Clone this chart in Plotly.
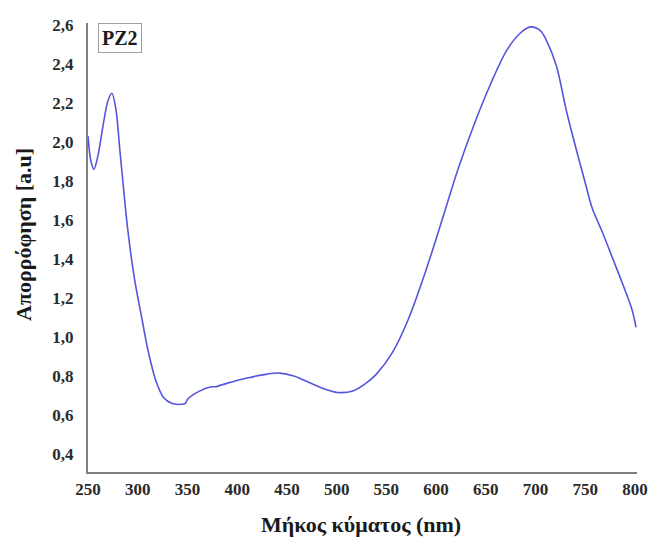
import plotly.graph_objects as go

# Absorption spectrum of sample PZ2
wavelength_nm = [250, 253, 256, 260, 265, 270, 274, 278, 282, 285, 290, 297, 304, 310,
                 318, 326, 334, 344, 348, 350, 361, 374, 378, 391, 410, 430, 443, 457,
                 473, 490, 503, 517, 530, 540, 556, 572, 589, 606, 622, 639, 655, 671,
                 685, 695, 705, 711, 721, 731, 741, 750, 757, 767, 777, 787, 797, 801]
absorbance = [2.03, 1.90, 1.86, 1.93, 2.08, 2.21, 2.25, 2.17, 1.96, 1.80, 1.55, 1.29, 1.10, 0.94,
              0.78, 0.69, 0.66, 0.655, 0.66, 0.68, 0.72, 0.745, 0.745, 0.765, 0.79, 0.81, 0.815, 0.80,
              0.765, 0.73, 0.715, 0.725, 0.765, 0.81, 0.92, 1.09, 1.33, 1.60, 1.86, 2.10, 2.30, 2.47,
              2.56, 2.59, 2.57, 2.52, 2.39, 2.16, 1.96, 1.79, 1.66, 1.54, 1.41, 1.28, 1.14, 1.05]

x_ticks = [250, 300, 350, 400, 450, 500, 550, 600, 650, 700, 750, 800]
y_ticks = [0.4, 0.6, 0.8, 1.0, 1.2, 1.4, 1.6, 1.8, 2.0, 2.2, 2.4, 2.6]

sample_label = "PZ2"
x_title = "Μήκος κύματος (nm)"
y_title = "Απορρόφηση [a.u]"

serif = "Liberation Serif"

fig = go.Figure()
fig.add_trace(go.Scatter(
    x=wavelength_nm, y=absorbance, mode="lines",
    line=dict(color="#5555dd", width=1.6, shape="spline", smoothing=0.9),
    showlegend=False, hoverinfo="skip",
))

axis_common = dict(
    showgrid=False, zeroline=False, showline=True,
    linecolor="#808080", linewidth=2, ticks="",
    tickfont=dict(family=serif, size=17, color="#2a2a2a", weight="bold"),
)

fig.update_xaxes(range=[250, 802], tickvals=x_ticks, ticklabelstandoff=1, **axis_common)
fig.update_yaxes(range=[0.308, 2.61], tickvals=y_ticks, tickformat=".1f",
                 ticklabelstandoff=9, **axis_common)

fig.update_layout(
    width=660, height=537,
    margin=dict(l=88, r=15, t=23, b=65),
    paper_bgcolor="white", plot_bgcolor="white",
    separators=",.",
    annotations=[
        dict(text=sample_label, xref="paper", yref="paper", x=0.059, y=0.967,
             xanchor="center", yanchor="middle", showarrow=False,
             font=dict(family=serif, size=20, color="#1a1a1a", weight="bold"),
             bordercolor="#a0a0a0", borderwidth=1, borderpad=3, bgcolor="white"),
        dict(text=x_title, xref="paper", yref="paper", x=0.497, y=0,
             xanchor="center", yanchor="middle", yshift=-52, showarrow=False,
             font=dict(family=serif, size=22, color="#1a1a1a", weight="bold")),
        dict(text=y_title, xref="paper", yref="paper", x=-0.1185, y=0.53,
             xanchor="center", yanchor="middle", textangle=-90, showarrow=False,
             font=dict(family=serif, size=22, color="#1a1a1a", weight="bold")),
    ],
)

fig.write_html("out.html")
